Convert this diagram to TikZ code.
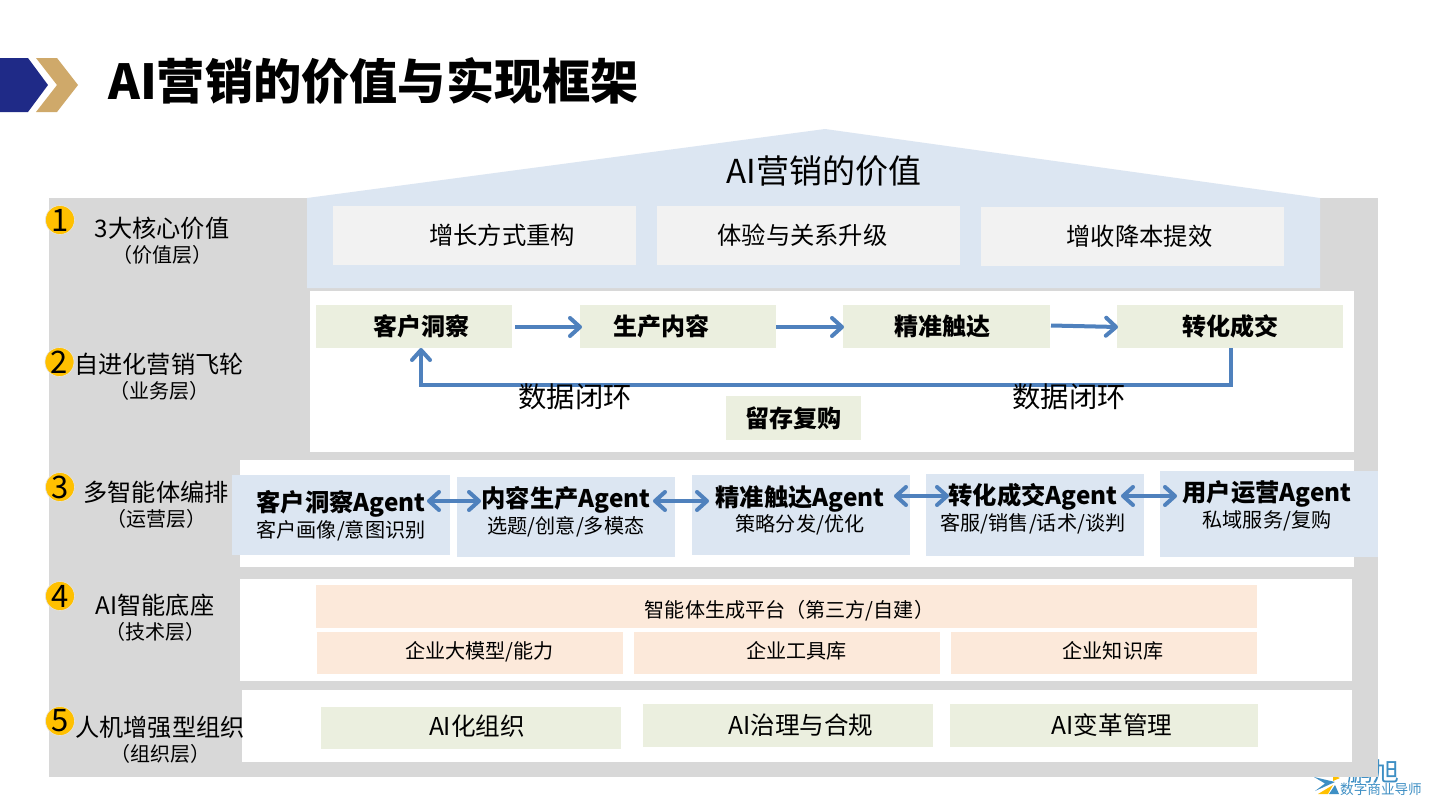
\documentclass[tikz,border=0pt]{standalone}
\usepackage{fontspec}
\setmainfont{Noto Sans CJK SC}
\usetikzlibrary{arrows.meta,positioning}
\definecolor{bandgray}{HTML}{D8D8D8}
\definecolor{roofblue}{HTML}{DCE6F2}
\definecolor{cellgray}{HTML}{F2F2F2}
\definecolor{cellgreen}{HTML}{EBEFDF}
\definecolor{cellorange}{HTML}{FCE9DA}
\definecolor{arrowblue}{HTML}{4F81BD}
\definecolor{navy}{HTML}{1F2A87}
\definecolor{tan}{HTML}{CFA96A}
\definecolor{gold}{HTML}{FFC000}
\definecolor{logoblue}{HTML}{3E8FC4}
\tikzset{
  x=1pt,y=-1pt,
  barb/.tip={Straight Barb[length=10pt,width=18pt,round]},
  cell/.style={anchor=north west,inner sep=0pt,outer sep=0pt,align=center,text=black},
  gcell/.style={cell,fill=cellgray,font=\fontsize{24.3}{28}\selectfont},
  fcell/.style={cell,fill=cellgreen,font=\fontsize{24}{28}\selectfont\bfseries},
  ocell/.style={cell,fill=cellorange,font=\fontsize{20.1}{24}\selectfont},
  lcell/.style={cell,fill=cellgreen,font=\fontsize{24.6}{28}\selectfont},
  acell/.style={cell,fill=roofblue},
  numdot/.style={circle,fill=gold,draw=bandgray!70!white,line width=.6pt,minimum size=29pt,inner sep=0pt,font=\fontsize{31}{31}\selectfont},
  lay/.style={align=center,inner sep=0pt,font=\fontsize{24.2}{24}\selectfont},
  one/.style={-barb,draw=arrowblue,line width=4pt},
  two/.style={barb-barb,draw=arrowblue,line width=4pt},
  loopl/.style={inner sep=0pt,font=\fontsize{28.3}{28}\selectfont},
}
\newcommand{\agentbox}[2]{{\fontsize{24.3}{27}\selectfont\bfseries #1}\\[2pt]{\fontsize{20.1}{24}\selectfont #2}}
\newcommand{\layerbox}[2]{#1\\[1pt]{\fontsize{20}{20}\selectfont #2}}
\begin{document}
\begin{tikzpicture}
\useasboundingbox (0,0) rectangle (1440,811);
\fill[white] (0,0) rectangle (1440,811);
% header chevrons
\fill[navy] (0,58) -- (28,58) -- (48,85) -- (28,112) -- (0,112) -- cycle;
\fill[tan] (36,58) -- (57,58) -- (78,85) -- (57,112) -- (36,112) -- (57,85) -- cycle;
\node[anchor=west,inner sep=0pt,font=\fontsize{48.2}{50}\selectfont\bfseries] (title) at (108,81) {AI营销的价值与实现框架};
% logo (under the grey)
\fill[gold] (1333,775) -- (1340,778) -- (1333,781) -- cycle;
\fill[logoblue] (1314,777) -- (1335,782) -- (1315,791) -- (1325,783.5) -- cycle;
\fill[gold] (1318,794) -- (1333,785) -- (1328,794) -- cycle;
\fill[logoblue] (1329,794) -- (1335,785) -- (1339,794) -- cycle;
\node[anchor=west,inner sep=0pt,text=logoblue,font=\fontsize{26}{26}\selectfont\itshape] (brand) at (1347,772) {鹏旭};
\node[anchor=west,inner sep=0pt,text=logoblue,font=\fontsize{13.6}{14}\selectfont\itshape] (slogan) at (1340,789) {数字商业导师};
% grey base and white panels
\fill[bandgray] (49,198) rectangle (1378,777);
\fill[white] (310,291) rectangle (1354,452);
\fill[white] (240,460) rectangle (1354,567);
\fill[white] (240,579) rectangle (1352,681);
\fill[white] (242,690) rectangle (1352,762);
% roof
\fill[roofblue] (307,198) -- (825,129) -- (1320,198) -- (1320,288) -- (307,288) -- cycle;
\node[inner sep=0pt,font=\fontsize{33}{36}\selectfont] (rooft) at (824,171) {AI营销的价值};
% value row
\node[gcell,minimum width=303pt,minimum height=59pt] (v1) at (333,206) {\hspace*{35pt}增长方式重构};
\node[gcell,minimum width=303pt,minimum height=59pt] (v2) at (657,206) {\hspace*{-12pt}体验与关系升级};
\node[gcell,minimum width=303pt,minimum height=59pt] (v3) at (981,207) {\hspace*{14pt}增收降本提效};
% flywheel
\node[fcell,minimum width=196pt,minimum height=43pt] (f1) at (316,305) {\hspace*{14pt}客户洞察};
\node[fcell,minimum width=196pt,minimum height=43pt] (f2) at (580,305) {\hspace*{-34pt}生产内容};
\node[fcell,minimum width=207pt,minimum height=43pt] (f3) at (843,305) {\hspace*{-8pt}精准触达};
\node[fcell,minimum width=226pt,minimum height=43pt] (f4) at (1117,305) {转化成交};
\node[fcell,minimum width=135pt,minimum height=44pt] (f5) at (726,396) {留存复购};
\coordinate (a1s) at (515,327); \coordinate (a1e) at (582,327);
\coordinate (a2s) at (776,327); \coordinate (a2e) at (844,327);
\coordinate (a3s) at (1051,325.5); \coordinate (a3e) at (1118,327);
\draw[one] (a1s) -- (a1e);
\draw[one] (a2s) -- (a2e);
\draw[one] (a3s) -- (a3e);
\coordinate (lpb) at (1231,385);
\coordinate (lpc) at (421,385);
\draw[one] (f4.south -| lpb) -- (lpb) -- (lpc) -- (f1.south -| lpc);
\node[loopl] (l1) at (575,397) {数据闭环};
\node[loopl] (l2) at (1069,397) {数据闭环};
% agents
\node[acell,minimum width=218pt,minimum height=80pt] (g1) at (232,475) {};
\node[acell,minimum width=218pt,minimum height=80pt] (g2) at (457,477) {};
\node[acell,minimum width=218pt,minimum height=80pt] (g3) at (692,475) {};
\node[acell,minimum width=218pt,minimum height=82pt] (g4) at (926,474) {};
\node[acell,minimum width=218pt,minimum height=86pt] (g5) at (1160,471) {};
\node[align=center,inner sep=0pt] (t1) at (341,515.5) {\agentbox{客户洞察Agent}{客户画像/意图识别}};
\node[align=center,inner sep=0pt] (t2) at (566,511.5) {\agentbox{内容生产Agent}{选题/创意/多模态}};
\node[align=center,inner sep=0pt] (t3) at (800,510.5) {\agentbox{精准触达Agent}{策略分发/优化}};
\node[align=center,inner sep=0pt] (t4) at (1033,508.5) {\agentbox{转化成交Agent}{客服/销售/话术/谈判}};
\node[align=center,inner sep=0pt] (t5) at (1267,505.5) {\agentbox{用户运营Agent}{私域服务/复购}};
\coordinate (b1s) at (427,501); \coordinate (b1e) at (481,501);
\coordinate (b2s) at (653,501); \coordinate (b2e) at (709,501);
\coordinate (b3s) at (894,496); \coordinate (b3e) at (949,496);
\coordinate (b4s) at (1121,496); \coordinate (b4e) at (1177,496);
\draw[two] (b1s) -- (b1e);
\draw[two] (b2s) -- (b2e);
\draw[two] (b3s) -- (b3e);
\draw[two] (b4s) -- (b4e);
% AI base
\node[ocell,minimum width=941pt,minimum height=43pt] (o0) at (316,585) {\hspace*{6pt}\rule{0pt}{26pt}智能体生成平台（第三方/自建）};
\node[ocell,minimum width=306pt,minimum height=42pt] (o1) at (317,632) {\hspace*{19pt}\rule[-6pt]{0pt}{6pt}企业大模型/能力};
\node[ocell,minimum width=306pt,minimum height=42pt] (o2) at (634,632) {\hspace*{19pt}\rule[-6pt]{0pt}{6pt}企业工具库};
\node[ocell,minimum width=306pt,minimum height=42pt] (o3) at (951,632) {\hspace*{18pt}\rule[-6pt]{0pt}{6pt}企业知识库};
% org
\node[lcell,minimum width=300pt,minimum height=42pt] (k1) at (321,707) {\hspace*{12pt}\rule[-6pt]{0pt}{6pt}AI化组织};
\node[lcell,minimum width=290pt,minimum height=43pt] (k2) at (643,704) {\hspace*{26pt}AI治理与合规};
\node[lcell,minimum width=308pt,minimum height=43pt] (k3) at (950,704) {\hspace*{16pt}AI变革管理};
% layer labels
\node[lay] (y1) at (162,241) {\layerbox{3大核心价值}{（价值层）}};
\node[lay] (y2) at (159,376.5) {\layerbox{自进化营销飞轮}{（业务层）}};
\node[lay] (y3) at (156,504.5) {\layerbox{多智能体编排}{（运营层）}};
\node[lay] (y4) at (155,617.5) {\layerbox{AI智能底座}{（技术层）}};
\node[lay] (y5) at (160,739.5) {\layerbox{人机增强型组织}{（组织层）}};
\node[numdot] (n1) at (60,220) {1};
\node[numdot] (n2) at (59.5,362) {2};
\node[numdot] (n3) at (60,487) {3};
\node[numdot] (n4) at (60,596) {4};
\node[numdot] (n5) at (60,721) {5};
\end{tikzpicture}
\end{document}
